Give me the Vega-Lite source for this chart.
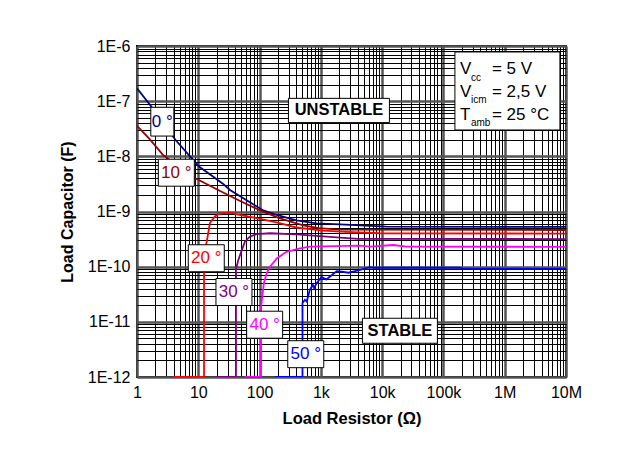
{
  "$schema": "https://vega.github.io/schema/vega-lite/v6.json",
  "autosize": {"type": "none"},
  "width": 429,
  "height": 331,
  "padding": {"left": 137, "top": 46, "right": 59, "bottom": 86},
  "background": "white",
  "config": {
    "font": "Liberation Sans",
    "view": {"stroke": "black", "strokeWidth": 2}
  },
  "datasets": {
    "curves": [
      {"deg": "0 °", "R": 1, "C": 1.71e-7},
      {"deg": "0 °", "R": 1.722, "C": 7.94e-8},
      {"deg": "0 °", "R": 4.227, "C": 2.0e-8},
      {"deg": "0 °", "R": 10.38, "C": 6.46e-9},
      {"deg": "0 °", "R": 17.58, "C": 4.27e-9},
      {"deg": "0 °", "R": 25.47, "C": 3.16e-9},
      {"deg": "0 °", "R": 32.89, "C": 2.45e-9},
      {"deg": "0 °", "R": 62.52, "C": 1.585e-9},
      {"deg": "0 °", "R": 114.8, "C": 1.047e-9},
      {"deg": "0 °", "R": 177.8, "C": 8.91e-10},
      {"deg": "0 °", "R": 398.1, "C": 6.92e-10},
      {"deg": "0 °", "R": 851.1, "C": 6.1e-10},
      {"deg": "0 °", "R": 2042, "C": 5.82e-10},
      {"deg": "0 °", "R": 11749, "C": 5.31e-10},
      {"deg": "0 °", "R": 10000000, "C": 5.25e-10},
      {"deg": "10 °", "R": 1, "C": 3.55e-8},
      {"deg": "10 °", "R": 1.585, "C": 2.09e-8},
      {"deg": "10 °", "R": 2.69, "C": 1.047e-8},
      {"deg": "10 °", "R": 8.04, "C": 4.27e-9},
      {"deg": "10 °", "R": 12.02, "C": 3.39e-9},
      {"deg": "10 °", "R": 21.88, "C": 2.4e-9},
      {"deg": "10 °", "R": 46.35, "C": 1.585e-9},
      {"deg": "10 °", "R": 97.7, "C": 1.07e-9},
      {"deg": "10 °", "R": 208.9, "C": 7.6e-10},
      {"deg": "10 °", "R": 512.9, "C": 5.62e-10},
      {"deg": "10 °", "R": 933.3, "C": 5.01e-10},
      {"deg": "10 °", "R": 1950, "C": 4.68e-10},
      {"deg": "10 °", "R": 10000000, "C": 4.62e-10},
      {"deg": "20 °", "R": 3.89, "C": 1e-12},
      {"deg": "20 °", "R": 12.39, "C": 1e-12},
      {"deg": "20 °", "R": 12.39, "C": 1.778e-10},
      {"deg": "20 °", "R": 13.71, "C": 2.818e-10},
      {"deg": "20 °", "R": 15.49, "C": 6.17e-10},
      {"deg": "20 °", "R": 18.62, "C": 8.13e-10},
      {"deg": "20 °", "R": 21.38, "C": 8.91e-10},
      {"deg": "20 °", "R": 25.7, "C": 9.33e-10},
      {"deg": "20 °", "R": 34.28, "C": 9.55e-10},
      {"deg": "20 °", "R": 42.66, "C": 8.91e-10},
      {"deg": "20 °", "R": 89.13, "C": 7.59e-10},
      {"deg": "20 °", "R": 213.8, "C": 6.17e-10},
      {"deg": "20 °", "R": 398.1, "C": 5.13e-10},
      {"deg": "20 °", "R": 1096, "C": 4.52e-10},
      {"deg": "20 °", "R": 2512, "C": 4.27e-10},
      {"deg": "20 °", "R": 9120, "C": 4.03e-10},
      {"deg": "20 °", "R": 10000000, "C": 3.98e-10},
      {"deg": "30 °", "R": 19.95, "C": 1e-12},
      {"deg": "30 °", "R": 41.21, "C": 1e-12},
      {"deg": "30 °", "R": 41.21, "C": 8.91e-11},
      {"deg": "30 °", "R": 44.98, "C": 1.318e-10},
      {"deg": "30 °", "R": 51.29, "C": 1.995e-10},
      {"deg": "30 °", "R": 57.54, "C": 2.84e-10},
      {"deg": "30 °", "R": 69.18, "C": 3.5e-10},
      {"deg": "30 °", "R": 89.13, "C": 3.89e-10},
      {"deg": "30 °", "R": 147.9, "C": 4.03e-10},
      {"deg": "30 °", "R": 398.1, "C": 3.85e-10},
      {"deg": "30 °", "R": 851.1, "C": 3.63e-10},
      {"deg": "30 °", "R": 1820, "C": 3.39e-10},
      {"deg": "30 °", "R": 3981, "C": 3.2e-10},
      {"deg": "30 °", "R": 10000000, "C": 3.16e-10},
      {"deg": "40 °", "R": 57.54, "C": 1e-12},
      {"deg": "40 °", "R": 104.7, "C": 1e-12},
      {"deg": "40 °", "R": 104.7, "C": 1.66e-11},
      {"deg": "40 °", "R": 117.5, "C": 5.01e-11},
      {"deg": "40 °", "R": 130.3, "C": 7.59e-11},
      {"deg": "40 °", "R": 147.9, "C": 1e-10},
      {"deg": "40 °", "R": 190.5, "C": 1.413e-10},
      {"deg": "40 °", "R": 275.4, "C": 1.862e-10},
      {"deg": "40 °", "R": 457.1, "C": 2.153e-10},
      {"deg": "40 °", "R": 660.7, "C": 2.307e-10},
      {"deg": "40 °", "R": 4365, "C": 2.4e-10},
      {"deg": "40 °", "R": 6310, "C": 2.307e-10},
      {"deg": "40 °", "R": 15136, "C": 2.47e-10},
      {"deg": "40 °", "R": 25119, "C": 2.307e-10},
      {"deg": "40 °", "R": 10000000, "C": 2.29e-10},
      {"deg": "50 °", "R": 177.8, "C": 1e-12},
      {"deg": "50 °", "R": 501.2, "C": 1e-12},
      {"deg": "50 °", "R": 501.2, "C": 2.19e-11},
      {"deg": "50 °", "R": 549.5, "C": 2.51e-11},
      {"deg": "50 °", "R": 588.8, "C": 2.34e-11},
      {"deg": "50 °", "R": 660.7, "C": 3.8e-11},
      {"deg": "50 °", "R": 741.3, "C": 4.68e-11},
      {"deg": "50 °", "R": 776.2, "C": 4.07e-11},
      {"deg": "50 °", "R": 851.1, "C": 5.01e-11},
      {"deg": "50 °", "R": 1023, "C": 6.46e-11},
      {"deg": "50 °", "R": 1230, "C": 5.89e-11},
      {"deg": "50 °", "R": 1514, "C": 7.08e-11},
      {"deg": "50 °", "R": 1820, "C": 8.32e-11},
      {"deg": "50 °", "R": 2188, "C": 8.13e-11},
      {"deg": "50 °", "R": 2818, "C": 7.76e-11},
      {"deg": "50 °", "R": 3631, "C": 8.32e-11},
      {"deg": "50 °", "R": 4677, "C": 8.91e-11},
      {"deg": "50 °", "R": 6310, "C": 9.77e-11},
      {"deg": "50 °", "R": 7586, "C": 9.55e-11},
      {"deg": "50 °", "R": 186209, "C": 9.55e-11},
      {"deg": "50 °", "R": 208930, "C": 9.12e-11},
      {"deg": "50 °", "R": 10000000, "C": 9.12e-11}
    ],
    "labels": [
      {"deg": "0 °", "R": 2.59, "C": 4.25e-8},
      {"deg": "10 °", "R": 4.38, "C": 5.05e-9},
      {"deg": "20 °", "R": 13.5, "C": 1.42e-10},
      {"deg": "30 °", "R": 38.2, "C": 3.47e-11},
      {"deg": "40 °", "R": 121, "C": 8.87e-12},
      {"deg": "50 °", "R": 567, "C": 2.59e-12}
    ],
    "regions": [
      {"text": "UNSTABLE", "R": 1972, "C": 6.78e-8},
      {"text": "STABLE", "R": 19500, "C": 6.89e-12}
    ],
    "params": [
      {"R": 1107000, "C": 1.53e-7, "sym": ["V", "V", "T"], "sub": ["cc", "icm", "amb"], "val": ["= 5 V", "= 2,5 V", "= 25 °C"]}
    ]
  },
  "encoding": {
    "x": {
      "field": "R", "type": "quantitative",
      "scale": {"type": "log", "domain": [1, 10000000], "nice": false},
      "axis": {
        "values": [1,2,3,4,5,6,7,8,9,10,20,30,40,50,60,70,80,90,100,200,300,400,500,600,700,800,900,1000,2000,3000,4000,5000,6000,7000,8000,9000,10000,20000,30000,40000,50000,60000,70000,80000,90000,100000,200000,300000,400000,500000,600000,700000,800000,900000,1000000,2000000,3000000,4000000,5000000,6000000,7000000,8000000,9000000,10000000],
        "labelExpr": "abs(log(datum.value)/LN10 - round(log(datum.value)/LN10)) < 0.001 ? (datum.value >= 1000000 ? (datum.value/1000000) + 'M' : datum.value >= 1000 ? (datum.value/1000) + 'k' : '' + datum.value) : ''",
        "grid": true,
        "gridColor": {"condition": {"test": "abs(log(datum.value)/LN10 - round(log(datum.value)/LN10)) < 0.001", "value": "#555555"}, "value": "#000000"},
        "gridWidth": {"condition": {"test": "abs(log(datum.value)/LN10 - round(log(datum.value)/LN10)) < 0.001", "value": 2.5}, "value": 1},
        "gridOpacity": 1,
        "ticks": false,
        "domain": false,
        "labelFontSize": 16,
        "labelColor": "black",
        "labelPadding": 7,
        "labelOverlap": false,
        "labelFlush": false,
        "labelBound": false,
        "title": "Load Resistor (Ω)",
        "titleFontSize": 16.5,
        "titleFontWeight": "bold",
        "titleColor": "black",
        "titlePadding": 10
      }
    },
    "y": {
      "field": "C", "type": "quantitative",
      "scale": {"type": "log", "domain": [1e-12, 1e-6], "nice": false},
      "axis": {
        "values": [1e-12,2e-12,3e-12,4e-12,5e-12,6e-12,7e-12,8e-12,9e-12,1e-11,2e-11,3e-11,4e-11,5e-11,6e-11,7e-11,8e-11,9e-11,1e-10,2e-10,3e-10,4e-10,5e-10,6e-10,7e-10,8e-10,9e-10,1e-9,2e-9,3e-9,4e-9,5e-9,6e-9,7e-9,8e-9,9e-9,1e-8,2e-8,3e-8,4e-8,5e-8,6e-8,7e-8,8e-8,9e-8,1e-7,2e-7,3e-7,4e-7,5e-7,6e-7,7e-7,8e-7,9e-7,1e-6],
        "labelExpr": "abs(log(datum.value)/LN10 - round(log(datum.value)/LN10)) < 0.001 ? '1E' + round(log(datum.value)/LN10) : ''",
        "grid": true,
        "gridColor": {"condition": {"test": "abs(log(datum.value)/LN10 - round(log(datum.value)/LN10)) < 0.001", "value": "#555555"}, "value": "#000000"},
        "gridWidth": {"condition": {"test": "abs(log(datum.value)/LN10 - round(log(datum.value)/LN10)) < 0.001", "value": 2.5}, "value": 1},
        "gridOpacity": 1,
        "ticks": false,
        "domain": false,
        "labelFontSize": 16,
        "labelColor": "black",
        "labelPadding": 7,
        "labelOverlap": false,
        "labelFlush": false,
        "labelBound": false,
        "title": "Load Capacitor (F)",
        "titleFontSize": 16,
        "titleFontWeight": "bold",
        "titleColor": "black",
        "titlePadding": 12
      }
    }
  },
  "layer": [
    {
      "data": {"name": "curves"},
      "mark": {"type": "line", "strokeWidth": 1.8, "clip": true},
      "encoding": {
        "color": {"field": "deg", "type": "nominal", "legend": null,
          "scale": {"domain": ["0 °", "10 °", "20 °", "30 °", "40 °", "50 °"], "range": ["#000080", "#990000", "#ff0000", "#800080", "#ff00ff", "#0000ff"]}},
        "order": {"value": null}
      }
    },
    {
      "data": {"name": "labels"},
      "transform": [{"filter": "datum.deg !== '0 °'"}],
      "mark": {"type": "point", "shape": "M-1,-0.75H1V0.75H-1Z", "size": 1296, "filled": true, "fill": "white", "stroke": "black", "strokeWidth": 1, "opacity": 1}
    },
    {
      "data": {"name": "labels"},
      "transform": [{"filter": "datum.deg === '0 °'"}],
      "mark": {"type": "point", "shape": "M-0.8,-1H0.8V1H-0.8Z", "size": 829, "filled": true, "fill": "white", "stroke": "black", "strokeWidth": 1, "opacity": 1}
    },
    {
      "data": {"name": "labels"},
      "mark": {"type": "text", "fontSize": 17, "align": "center", "baseline": "middle"},
      "encoding": {
        "text": {"field": "deg", "type": "nominal"},
        "color": {"field": "deg", "type": "nominal", "legend": null,
          "scale": {"domain": ["0 °", "10 °", "20 °", "30 °", "40 °", "50 °"], "range": ["#000080", "#990000", "#ff0000", "#800080", "#ff00ff", "#0000ff"]}}
      }
    },
    {
      "data": {"name": "regions"},
      "transform": [{"filter": "datum.text === 'UNSTABLE'"}],
      "mark": {"type": "point", "shape": "M-1,-0.24H1V0.24H-1Z", "size": 10201, "filled": true, "fill": "white", "stroke": "black", "strokeWidth": 1, "opacity": 1}
    },
    {
      "data": {"name": "regions"},
      "transform": [{"filter": "datum.text === 'STABLE'"}],
      "mark": {"type": "point", "shape": "M-1,-0.3333H1V0.3333H-1Z", "size": 5625, "filled": true, "fill": "white", "stroke": "black", "strokeWidth": 1, "opacity": 1}
    },
    {
      "data": {"name": "regions"},
      "mark": {"type": "text", "fontSize": 16.5, "fontWeight": "bold", "align": "center", "baseline": "middle", "color": "black"},
      "encoding": {"text": {"field": "text", "type": "nominal"}}
    },
    {
      "data": {"name": "params"},
      "mark": {"type": "point", "shape": "M-1,-0.743H1V0.743H-1Z", "size": 11025, "filled": true, "fill": "white", "stroke": "black", "strokeWidth": 1, "opacity": 1}
    },
    {
      "data": {"name": "params"},
      "mark": {"type": "text", "fontSize": 17, "align": "left", "baseline": "middle", "lineHeight": 23, "dx": -47.5, "dy": -22, "color": "black"},
      "encoding": {"text": {"field": "sym", "type": "nominal"}}
    },
    {
      "data": {"name": "params"},
      "mark": {"type": "text", "fontSize": 10, "align": "left", "baseline": "middle", "lineHeight": 22.5, "dx": -36.5, "dy": -13, "color": "black"},
      "encoding": {"text": {"field": "sub", "type": "nominal"}}
    },
    {
      "data": {"name": "params"},
      "mark": {"type": "text", "fontSize": 17, "align": "left", "baseline": "middle", "lineHeight": 23, "dx": -15.5, "dy": -22, "color": "black"},
      "encoding": {"text": {"field": "val", "type": "nominal"}}
    }
  ]
}
